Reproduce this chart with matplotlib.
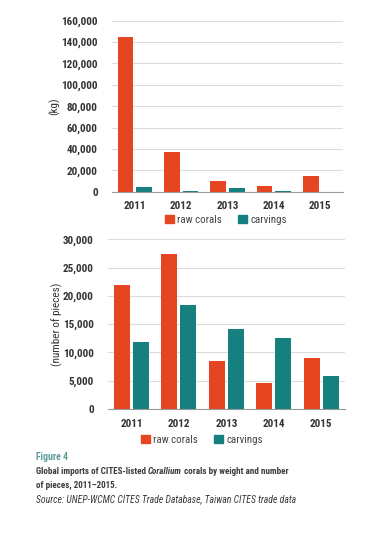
import matplotlib
matplotlib.use("Agg")
import matplotlib.pyplot as plt
from matplotlib.patches import Patch

years = ["2011", "2012", "2013", "2014", "2015"]
kg_raw = [145000, 36800, 10000, 5600, 14700]
kg_carv = [4700, 900, 3200, 1100, 0]
pcs_raw = [21900, 27400, 8450, 4550, 8950]
pcs_carv = [11850, 18400, 14150, 12600, 5900]

RED = "#E64521"
TEAL = "#167F7F"
TXT = "#333333"
FONT = ["Roboto Condensed", "Liberation Sans Narrow", "Roboto", "DejaVu Sans"]
plt.rcParams["font.family"] = FONT

W, H = 389, 536
fig = plt.figure(figsize=(W / 100, H / 100), dpi=100)
fig.patch.set_facecolor("white")


def px(l, t, r, b):
    return [l / W, 1 - b / H, (r - l) / W, (b - t) / H]


def panel(rect, raw, carv, ymax, step, ylabel, labelx):
    ax = fig.add_axes(rect)
    x = list(range(len(years)))
    ax.bar([i - 0.2 for i in x], raw, width=0.34, color=RED, zorder=3)
    ax.bar([i + 0.2 for i in x], carv, width=0.34, color=TEAL, zorder=3)
    ax.set_xlim(-0.5, len(years) - 0.5)
    ax.set_ylim(0, ymax)
    ax.set_yticks(range(0, ymax + 1, step))
    ax.set_yticklabels([f"{v:,}" for v in range(0, ymax + 1, step)])
    ax.set_xticks(x)
    ax.set_xticklabels(years)
    ax.grid(axis="y", color="#dcdcdc", linewidth=0.8, zorder=0)
    for s in ["top", "right", "left"]:
        ax.spines[s].set_visible(False)
    ax.spines["bottom"].set_color("#9a9a9a")
    ax.spines["bottom"].set_zorder(4)
    ax.tick_params(length=0, labelsize=8, labelcolor=TXT)
    ax.tick_params(axis="y", pad=10)
    ax.tick_params(axis="x", pad=7)
    for lab in ax.get_xticklabels() + ax.get_yticklabels():
        lab.set_fontweight("bold")
    mid = rect[1] + rect[3] / 2
    fig.text(labelx / W, mid, ylabel, rotation=90,
             ha="center", va="center", fontsize=8, color=TXT)
    return ax


panel(px(111.7, 20.7, 343.3, 191.7), kg_raw, kg_carv, 160000, 20000, "(kg)", 54)
panel(px(107.7, 239.3, 345, 409), pcs_raw, pcs_carv, 30000, 5000,
      "(number of pieces)", 57)

handles = [Patch(color=RED, label="raw corals"), Patch(color=TEAL, label="carvings")]
for cx, cy in [(226, 220), (202, 440)]:
    fig.legend(handles=handles, loc="center", bbox_to_anchor=(cx / W, 1 - cy / H),
               ncol=2, frameon=False, fontsize=7.8, labelcolor="#444444",
               handlelength=0.8, handleheight=0.8, handletextpad=0.3,
               columnspacing=1.5, borderpad=0)

# caption
fig.text(36 / W, 1 - 457 / H, "Figure 4", fontsize=7, fontweight="bold",
         color="#5E9C9C", va="center")
fig.canvas.draw()
r = fig.canvas.get_renderer()
xpos = 36
for s, st in [("Global imports of CITES-listed ", "normal"), ("Corallium", "italic"),
              (" corals by weight and number", "normal")]:
    t = fig.text(xpos / W, 1 - 471 / H, s, fontsize=6.5, fontweight="bold",
                 style=st, color="#3a3a3a", va="center")
    xpos += t.get_window_extent(r).width
fig.text(36 / W, 1 - 485 / H, "of pieces, 2011\u20132015.", fontsize=6.5,
         fontweight="bold", color="#3a3a3a", va="center")
fig.text(36 / W, 1 - 499 / H,
         "Source: UNEP-WCMC CITES Trade Database, Taiwan CITES trade data",
         fontsize=7, style="italic", color="#3a3a3a", va="center")

fig.savefig("out.png", dpi=100)
